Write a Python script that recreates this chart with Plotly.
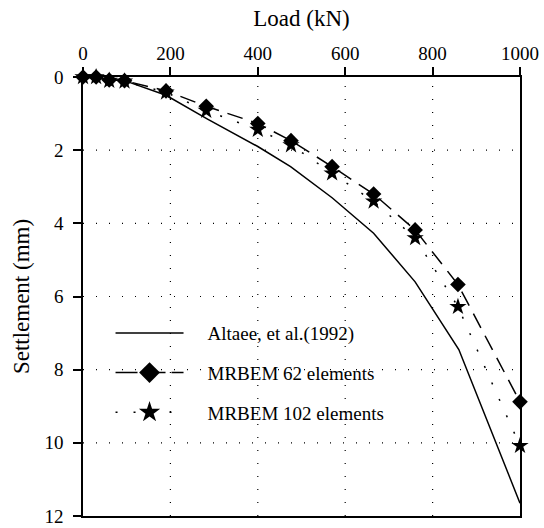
import plotly.graph_objects as go

# Altaee, et al. (1992) measured curve
altaee_load = [0, 95, 190, 285, 400, 475, 570, 665, 760, 860, 1000]
altaee_settle = [0, 0.1, 0.5, 1.15, 1.9, 2.45, 3.3, 4.27, 5.6, 7.45, 11.65]

# MRBEM 62 elements
m62_load = [0, 30, 60, 95, 190, 282, 400, 476, 570, 665, 760, 858, 1000]
m62_settle = [0, 0.0, 0.08, 0.1, 0.38, 0.8, 1.27, 1.74, 2.45, 3.2, 4.18, 5.67, 8.88]

# MRBEM 102 elements
m102_load = [0, 30, 60, 95, 190, 282, 400, 476, 570, 665, 760, 858, 1000]
m102_settle = [0, 0.0, 0.1, 0.12, 0.42, 0.92, 1.44, 1.86, 2.63, 3.4, 4.4, 6.28, 10.08]

series_names = ["Altaee, et al.(1992)", "MRBEM 62 elements", "MRBEM 102 elements"]

x_ticks = [0, 200, 400, 600, 800, 1000]
y_ticks = [0, 2, 4, 6, 8, 10, 12]
x_grid = [200, 400, 600, 800]
y_grid = [2, 4, 6, 8, 10]

FONT = "Liberation Serif, serif"
PAD = "\u00a0\u00a0\u00a0\u00a0"

fig = go.Figure()
# data traces
fig.add_trace(go.Scatter(
    x=altaee_load, y=altaee_settle, mode="lines", showlegend=False,
    line=dict(color="black", width=1.5), cliponaxis=False))
fig.add_trace(go.Scatter(
    x=m62_load, y=m62_settle, mode="lines+markers", showlegend=False,
    line=dict(color="black", width=1.5, dash="16px,9px"),
    marker=dict(symbol="diamond", size=12, color="black"), cliponaxis=False))
fig.add_trace(go.Scatter(
    x=m102_load, y=m102_settle, mode="lines+markers", showlegend=False,
    line=dict(color="black", width=1.5, dash="2px,16px"),
    marker=dict(symbol="star", size=13, color="black"), cliponaxis=False))

# legend entries (larger legend symbols, as in the reference)
fig.add_trace(go.Scatter(
    x=[None], y=[None], mode="lines", name=PAD + series_names[0],
    line=dict(color="black", width=1.5), legendgroup="a"))
fig.add_trace(go.Scatter(
    x=[None], y=[None], mode="lines+markers", name=PAD + series_names[1],
    line=dict(color="black", width=1.5, dash="22px,6px"),
    marker=dict(symbol="diamond", size=18, color="black"), legendgroup="b"))
fig.add_trace(go.Scatter(
    x=[None], y=[None], mode="lines+markers", name=PAD + series_names[2],
    line=dict(color="black", width=1.5, dash="2px,16px"),
    marker=dict(symbol="star", size=18, color="black"), legendgroup="c"))

# sparse dotted grid lines
shapes = []
for gx in x_grid:
    shapes.append(dict(type="line", xref="x", yref="paper", x0=gx, x1=gx,
                       y0=0, y1=1, layer="below",
                       line=dict(color="black", width=1.2, dash="1px,12px")))
for gy in y_grid:
    shapes.append(dict(type="line", xref="paper", yref="y", x0=0, x1=1,
                       y0=gy, y1=gy, layer="below",
                       line=dict(color="black", width=1.2, dash="1px,12px")))

fig.update_layout(
    width=544, height=528,
    margin=dict(l=83, r=24, t=77, b=12),
    paper_bgcolor="white", plot_bgcolor="white",
    font=dict(family=FONT, size=19, color="black"),
    showlegend=True,
    shapes=shapes,
    legend=dict(x=0.063, y=0.46, xanchor="left", yanchor="top",
                bgcolor="rgba(0,0,0,0)", itemwidth=68,
                tracegroupgap=12),
    xaxis=dict(
        side="top", range=[0, 1000], tickvals=x_ticks, automargin=False,
        ticks="outside", ticklen=8, tickwidth=1.5, tickcolor="black",
        showline=True, linecolor="black", linewidth=1.5, mirror=True,
        showgrid=False, zeroline=False,
        title=dict(text="Load (kN)", standoff=10),
    ),
    yaxis=dict(
        range=[12, 0], tickvals=y_ticks, automargin=False,
        ticks="outside", ticklen=8, tickwidth=1.5, tickcolor="black",
        showline=True, linecolor="black", linewidth=1.5, mirror=True,
        showgrid=False, zeroline=False, ticklabelstandoff=6,
        title=dict(text="Settlement (mm)", standoff=8),
    ),
)

fig.write_html("out.html", config={"displayModeBar": False},
               post_script="document.body.style.margin='0';")
